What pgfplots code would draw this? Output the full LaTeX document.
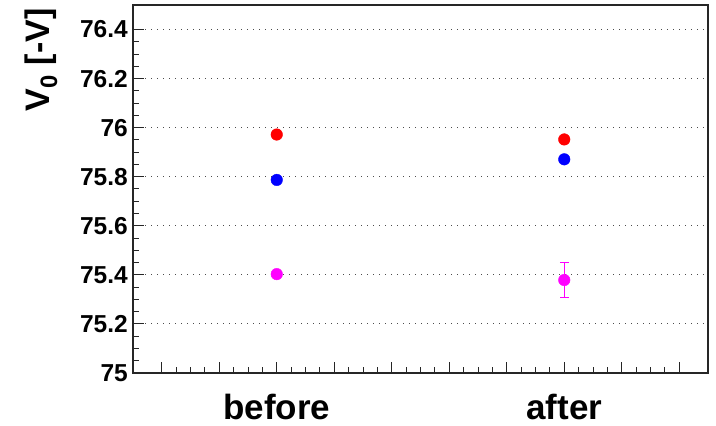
\documentclass[border=0pt]{standalone}
\usepackage{pgfplots}
\pgfplotsset{compat=1.18}
\usepackage{fontspec}
\setmainfont{Liberation Sans}
\definecolor{rred}{RGB}{255,0,0}
\definecolor{rblue}{RGB}{0,0,255}
\definecolor{rmag}{RGB}{255,0,255}
\begin{document}
\begin{tikzpicture}
\useasboundingbox (0,0) rectangle (716bp,426bp);
\begin{axis}[
  at={(133bp,53bp)}, anchor=south west,
  width=575bp, height=368bp, scale only axis,
  xmin=0, xmax=2, ymin=75, ymax=76.5,
  xtick={0.1,0.3,0.5,0.7,0.9,1.1,1.3,1.5,1.7,1.9},
  xticklabels={,,before,,,,,after,,},
  minor x tick num=3,
  ytick={75,75.2,75.4,75.6,75.8,76,76.2,76.4},
  yticklabels={75,75.2,75.4,75.6,75.8,76,76.2,76.4},
  minor y tick num=3,
  tick pos=left, tick align=inside,
  major tick length=11bp, minor tick length=5.5bp,
  axis line style={line width=1.1bp, black!85},
  every tick/.style={line width=1bp, black!85},
  ymajorgrids,
  grid style={line width=1.1bp, black!70, dash pattern=on 1.1bp off 4.9bp},
  /pgf/number format/assume math mode=true,
  yticklabel style={font=\fontsize{24.5bp}{28bp}\selectfont\bfseries, inner sep=0pt, xshift=-5bp},
  xticklabel style={font=\fontsize{35bp}{40bp}\selectfont\bfseries, inner sep=0pt, yshift=-21bp},
  ylabel={V\textsubscript{0} [-V]},
  ylabel style={font=\fontsize{34bp}{38bp}\selectfont\bfseries, at={(axis description cs:-0.16,1.0)}, anchor=east},
  clip=false,
]
\addplot[only marks, mark=*, mark size=5.8bp, color=rred, mark options={fill=rred, draw=rred}] coordinates {(0.5,75.972) (1.5,75.952)};
\addplot[only marks, mark=*, mark size=5.8bp, color=rblue, mark options={fill=rblue, draw=rblue}] coordinates {(0.5,75.787) (1.5,75.871)};
\addplot[only marks, mark=*, mark size=5.8bp, color=rmag, mark options={fill=rmag, draw=rmag},
  error bars/.cd, y dir=both, y explicit, error bar style={line width=1.5bp, rmag}, error mark options={rotate=90, mark size=4.5bp, line width=1.5bp, rmag}]
  coordinates {(0.5,75.403) +- (0,0.004) (1.5,75.379) +- (0,0.072)};
\end{axis}
\end{tikzpicture}
\end{document}
